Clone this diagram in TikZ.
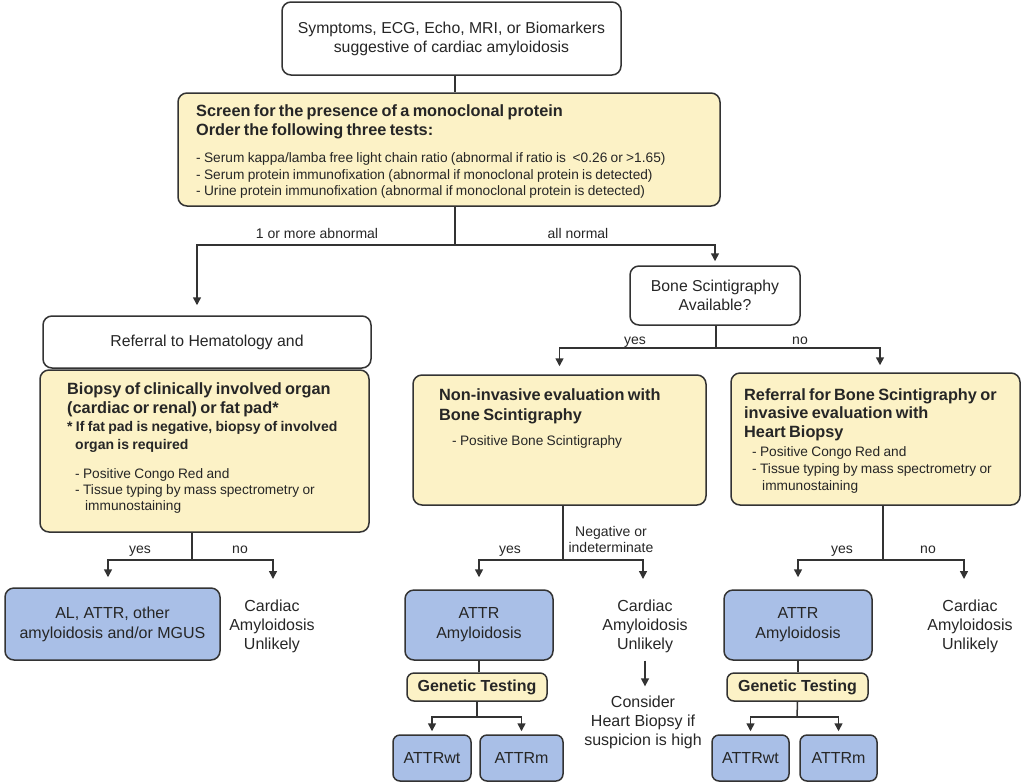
\documentclass[tikz,border=0pt]{standalone}
\usepackage{fontspec}
\setmainfont{Liberation Sans}
\usetikzlibrary{arrows.meta,calc}
\definecolor{cream}{HTML}{FCF2C6}
\definecolor{lblue}{HTML}{A9BFE7}
\definecolor{edge}{HTML}{333333}
\definecolor{txt}{HTML}{262626}
\newcommand\fntM{\fontsize{15.8}{19}\selectfont}
\newcommand\fntL{\fontsize{16}{20}\selectfont}
\newcommand\fntF{\fontsize{16}{19}\selectfont}
\newcommand\fntS{\fontsize{13.7}{16.4}\selectfont}
\newcommand\fntLb{\fontsize{14}{16}\selectfont}
\newcommand\fntH{\fontsize{16.3}{19.2}\selectfont\bfseries}
\newcommand\fntSB{\fontsize{14}{18}\selectfont\bfseries}
\tikzset{
 box/.style={draw=edge, line width=1.5pt, rounded corners=9pt, inner sep=0pt, align=center, text=txt},
 wbox/.style={box, fill=white, font=\fntM},
 ybox/.style={box, fill=cream},
 bbox/.style={box, fill=lblue, font=\fntL},
 line/.style={draw=edge, line width=1.5pt},
 arr/.style={line, -{Triangle[width=8pt,length=8pt]}},
 lbl/.style={text=txt, font=\fntLb, inner sep=0pt, align=center},
 free/.style={text=txt, font=\fntF, align=center, inner sep=0pt},
 ytext/.style={anchor=north west, inner sep=0pt, text=txt},
}
\begin{document}
\begin{tikzpicture}[x=1pt,y=-1pt]
\useasboundingbox (0,0) rectangle (1024,782);
\clip (0,0) rectangle (1024,782);
% boxes
\node[wbox, minimum width=339, minimum height=73] (top) at (451.5,38.5) {Symptoms, ECG, Echo, MRI, or Biomarkers\\suggestive of cardiac amyloidosis};
\node[ybox, minimum width=542, minimum height=113] (screen) at (449,149.5) {};
\node[ytext, text width=520] (screenT) at (196,104.5) {%
{\fntH Screen for the presence of a monoclonal protein\\Order the following three tests:\par}
\vspace{10.5pt}
{\fntS - Serum kappa/lamba free light chain ratio (abnormal if ratio is \ <0.26 or >1.65)\\
- Serum protein immunofixation (abnormal if monoclonal protein is detected)\\
- Urine protein immunofixation (abnormal if monoclonal protein is detected)\par}};
\node[wbox, minimum width=170, minimum height=59] (bone) at (715,295.5) {Bone Scintigraphy\\Available?};
\node[wbox, minimum width=328, minimum height=52] (heme) at (207,342) {Referral to Hematology and};
\node[ybox, minimum width=329, minimum height=162] (biopsy) at (204.5,451) {};
\node[ytext, text width=300] (biopsyT) at (67,382) {%
{\fntH Biopsy of clinically involved organ\\(cardiac or renal) or fat pad*\par}
{\fntSB * If fat pad is negative, biopsy of involved\\\hspace*{8pt}organ is required\par}
\vspace{12.5pt}
{\fntS\hspace*{8pt}- Positive Congo Red and\\
\hspace*{8pt}- Tissue typing by mass spectrometry or\\
\hspace*{18pt}immunostaining\par}};
\node[ybox, minimum width=293, minimum height=130] (noninv) at (559.5,440) {};
\node[ytext, text width=250] (noninvT) at (439,388) {%
{\fontsize{16.3}{20.5}\selectfont\bfseries Non-invasive evaluation with\\Bone Scintigraphy\par}
\vspace{9pt}
{\fntS\hspace*{13pt}- Positive Bone Scintigraphy\par}};
\node[ybox, minimum width=289, minimum height=132] (refbone) at (875.5,439) {};
\node[ytext, text width=275] (refboneT) at (744,388) {%
{\fontsize{16.3}{18.5}\selectfont\bfseries Referral for Bone Scintigraphy or\\invasive evaluation with\\Heart Biopsy\par}
\vspace{2.5pt}
{\fontsize{13.7}{17}\selectfont\hspace*{8pt}- Positive Congo Red and\\
\hspace*{8pt}- Tissue typing by mass spectrometry or\\
\hspace*{18pt}immunostaining\par}};
\node[bbox, minimum width=215, minimum height=72] (al) at (112.5,624) {AL, ATTR, other\\amyloidosis and/or MGUS};
\node[bbox, minimum width=148, minimum height=70] (attr1) at (479,625) {ATTR\\Amyloidosis};
\node[ybox, minimum width=140, minimum height=28, font=\fontsize{16}{19}\selectfont\bfseries, rounded corners=7pt] (gen1) at (477,687) {Genetic Testing};
\node[bbox, minimum width=78, minimum height=46, rounded corners=7pt] (wt1) at (432,758) {ATTRwt};
\node[bbox, minimum width=83, minimum height=46, rounded corners=7pt] (m1) at (521.5,758) {ATTRm};
\node[bbox, minimum width=148, minimum height=70] (attr2) at (798,625) {ATTR\\Amyloidosis};
\node[ybox, minimum width=141, minimum height=28, font=\fontsize{16}{19}\selectfont\bfseries, rounded corners=7pt] (gen2) at (797.5,687) {Genetic Testing};
\node[bbox, minimum width=77, minimum height=46, rounded corners=7pt] (wt2) at (750.5,758) {ATTRwt};
\node[bbox, minimum width=77, minimum height=46, rounded corners=7pt] (m2) at (838.5,758) {ATTRm};
% free texts
\node[free] (cu1) at (272,626) {Cardiac\\Amyloidosis\\Unlikely};
\node[free] (cu2) at (645,626) {Cardiac\\Amyloidosis\\Unlikely};
\node[free] (consider) at (643,722) {Consider\\Heart Biopsy if\\suspicion is high};
\node[free] (cu3) at (970,626) {Cardiac\\Amyloidosis\\Unlikely};
% labels
\node[lbl, anchor=base] (l1) at (317,238) {1 or more abnormal};
\node[lbl, anchor=base] (l2) at (578,238) {all normal};
\node[lbl, anchor=base] (l3) at (635,344) {yes};
\node[lbl, anchor=base] (l4) at (800,344) {no};
\node[lbl, anchor=base] (l5) at (140,553) {yes};
\node[lbl, anchor=base] (l6) at (240,553) {no};
\node[lbl, anchor=base] (l7) at (510,553) {yes};
\node[lbl] (l8) at (611,539) {Negative or\\indeterminate};
\node[lbl, anchor=base] (l9) at (842,553) {yes};
\node[lbl, anchor=base] (l10) at (928,553) {no};
% junctions
\coordinate (j1) at (455,245);
\coordinate (jl) at (197,245);
\coordinate (j2) at (716,348);
\coordinate (j2r) at (880,348);
\coordinate (j3) at (192,560);
\coordinate (j3l) at (108,560);
\coordinate (t3r) at (273,579);
\coordinate (j4) at (563,560);
\coordinate (t4r) at (643,579);
\coordinate (j5) at (883,560);
\coordinate (t5r) at (964,579);
\coordinate (j6) at (477,717);
\coordinate (j7) at (797,717);
% connectors
\draw[line] (top.south -| j1) -- (screen.north -| j1);
\draw[line] (screen.south -| j1) -- (j1);
\draw[arr, shorten >=10pt] (j1) -| (heme.north -| jl);
\draw[arr, shorten >=4pt] (j1) -| (bone.north);
\draw[line] (bone.south -| j2) -- (j2);
\draw[arr, shorten >=8pt] (j2) -| (noninv.north);
\draw[arr, shorten >=7pt] (j2) -| (refbone.north -| j2r);
\draw[line] (biopsy.south -| j3) -- (j3);
\draw[arr, shorten >=10pt] (j3) -| (al.north -| j3l);
\draw[arr] (j3) -| (t3r);
\draw[line] (noninv.south -| j4) -- (j4);
\draw[arr, shorten >=12pt] (j4) -| (attr1.north);
\draw[arr] (j4) -| (t4r);
\draw[line] (refbone.south -| j5) -- (j5);
\draw[arr, shorten >=12pt] (j5) -| (attr2.north);
\draw[arr] (j5) -| (t5r);
\draw[arr, shorten <=8pt, shorten >=9pt] (cu2.south) -- (consider.north -| cu2.south);
\draw[line] (attr1.south) -- (attr1.south |- gen1.north);
\draw[line] (gen1.south) -- (j6);
\draw[arr, shorten >=3pt] (j6) -| (wt1.north);
\draw[arr, shorten >=3pt] (j6) -| (m1.north);
\draw[line] (attr2.south) -- (attr2.south |- gen2.north);
\draw[line] (gen2.south) -- (j7);
\draw[arr, shorten >=3pt] (j7) -| (wt2.north);
\draw[arr, shorten >=3pt] (j7) -| (m2.north);
\end{tikzpicture}
\end{document}
